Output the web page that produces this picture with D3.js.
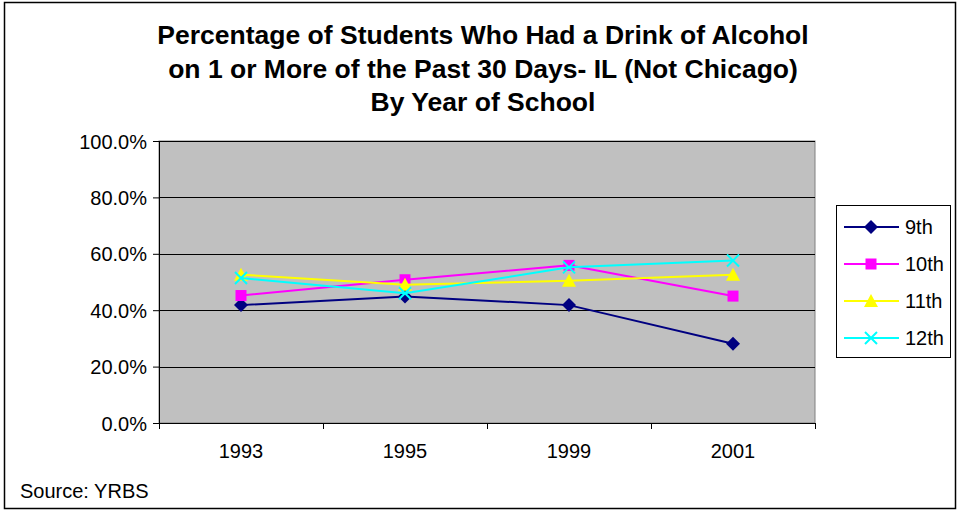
<!DOCTYPE html>
<html><head><meta charset="utf-8">
<script src="https://cdn.jsdelivr.net/npm/d3@7"></script>
<style>body{margin:0;background:#fff}svg{display:block;font-family:"Liberation Sans",Arial,sans-serif}</style>
</head><body><svg id="c" width="960" height="513"></svg>
<script>
const years = ["1993","1995","1999","2001"];
const grade9 = [41.8, 44.9, 41.8, 28.1];
const grade10 = [45.2, 50.8, 55.9, 45.0];
const grade11 = [52.6, 49.0, 50.4, 52.6];
const grade12 = [51.4, 46.0, 55.2, 57.6];
const seriesNames = ["9th","10th","11th","12th"];
const yTicks = [0,20,40,60,80,100];
const titleLines = ["Percentage of Students Who Had a Drink of Alcohol","on 1 or More of the Past 30 Days- IL (Not Chicago)","By Year of School"];
const sourceText = "Source: YRBS";

const series = [
  {name: seriesNames[0], values: grade9, color: "#000080", shape: "diamond"},
  {name: seriesNames[1], values: grade10, color: "#ff00ff", shape: "square"},
  {name: seriesNames[2], values: grade11, color: "#ffff00", shape: "triangle"},
  {name: seriesNames[3], values: grade12, color: "#00ffff", shape: "x"}
];

const svg = d3.select("#c");
svg.append("rect").attr("x",4.5).attr("y",2.5).attr("width",951).attr("height",506)
  .attr("fill","#fff").attr("stroke","#000").attr("stroke-width",1.5);

const L=159, R=815, T=141, B=423;
const x = d3.scaleBand().domain(years).range([L,R]);
const y = d3.scaleLinear().domain([0,100]).range([B,T]);

svg.append("rect").attr("x",L).attr("y",T).attr("width",R-L).attr("height",B-T)
  .attr("fill","#c0c0c0").attr("stroke","#808080").attr("stroke-width",1);

// gridlines
svg.append("g").selectAll("line").data(yTicks.filter(d=>d>0)).join("line")
  .attr("x1",L).attr("x2",R).attr("y1",d=>Math.round(y(d))+0.5).attr("y2",d=>Math.round(y(d))+0.5)
  .attr("stroke","#000").attr("stroke-width",1);

// y axis
const yAxis = d3.axisLeft(y).tickValues(yTicks).tickFormat(d=>d3.format(".1f")(d)+"%").tickSize(6).tickPadding(6);
const gy = svg.append("g").attr("transform",`translate(${L},0)`).call(yAxis);
gy.select(".domain").attr("stroke","#000");
gy.selectAll("line").attr("stroke","#000");
gy.selectAll("text").attr("font-size",20).attr("fill","#000").attr("font-family","Liberation Sans, Arial, sans-serif")
  .attr("dy",null).attr("y",7);

// x axis
const xAxis = d3.axisBottom(x).tickSize(0).tickPadding(0);
const gx = svg.append("g").attr("transform",`translate(0,${B})`).call(xAxis);
gx.select(".domain").attr("stroke","#000").attr("d",`M${L},0.5H${R}`);
gx.selectAll("text").attr("font-size",20).attr("fill","#000").attr("font-family","Liberation Sans, Arial, sans-serif")
  .attr("dy",null).attr("y",35);
// category boundary ticks
const bounds = years.map(d=>x(d)).concat([R]);
gx.append("g").selectAll("line").data(bounds).join("line")
  .attr("x1",d=>Math.round(d)+0.5).attr("x2",d=>Math.round(d)+0.5).attr("y1",0).attr("y2",6).attr("stroke","#000");

function marker(g, shape, color, cx, cy){
  if(shape==="diamond"){
    g.append("path").attr("d",`M${cx},${cy-7}L${cx+7},${cy}L${cx},${cy+7}L${cx-7},${cy}Z`).attr("fill",color);
  } else if(shape==="square"){
    g.append("rect").attr("x",cx-5.5).attr("y",cy-5.5).attr("width",11).attr("height",11).attr("fill",color);
  } else if(shape==="triangle"){
    g.append("path").attr("d",`M${cx},${cy-7}L${cx+7},${cy+6}L${cx-7},${cy+6}Z`).attr("fill",color);
  } else {
    g.append("path").attr("d",`M${cx-6},${cy-6}L${cx+6},${cy+6}M${cx+6},${cy-6}L${cx-6},${cy+6}`)
      .attr("stroke",color).attr("stroke-width",2).attr("fill","none");
  }
}

const line = d3.line().x((d,i)=>x(years[i])+x.bandwidth()/2).y(d=>y(d));
series.forEach(s=>{
  const g = svg.append("g");
  g.append("path").attr("d",line(s.values)).attr("fill","none").attr("stroke",s.color).attr("stroke-width",2);
  s.values.forEach((v,i)=>marker(g,s.shape,s.color,x(years[i])+x.bandwidth()/2,y(v)));
});

// title
const titleY = [44, 77.5, 111];
svg.append("g").selectAll("text").data(titleLines).join("text")
  .attr("x",483).attr("y",(d,i)=>titleY[i]).attr("text-anchor","middle")
  .attr("font-size",26.5).attr("font-weight","bold").attr("fill","#000").text(d=>d);

// legend
const lg = svg.append("g");
lg.append("rect").attr("x",836.5).attr("y",205.5).attr("width",114).attr("height",152)
  .attr("fill","#fff").attr("stroke","#000").attr("stroke-width",1);
const ly = d3.scalePoint().domain(seriesNames).range([227,338]);
series.forEach(s=>{
  const yy = ly(s.name);
  lg.append("line").attr("x1",844).attr("x2",899).attr("y1",yy).attr("y2",yy).attr("stroke",s.color).attr("stroke-width",2);
  marker(lg,s.shape,s.color,871,yy);
  lg.append("text").attr("x",905).attr("y",yy+7).attr("font-size",20).attr("fill","#000").text(s.name);
});

svg.append("text").attr("x",20).attr("y",498).attr("font-size",20).attr("fill","#000").text(sourceText);
</script></body></html>
